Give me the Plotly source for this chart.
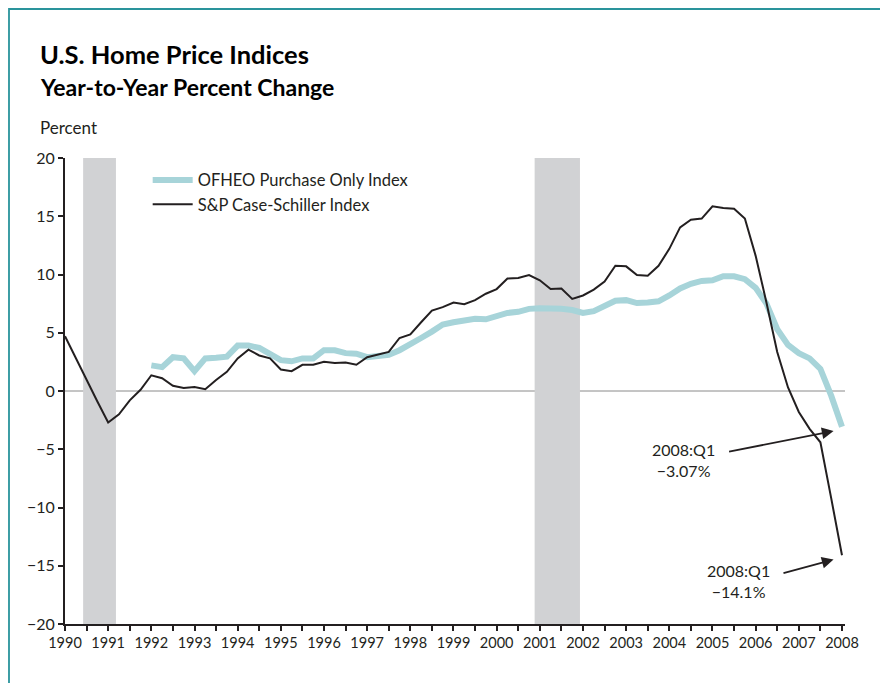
import plotly.graph_objects as go

# Quarterly time axis 1990:Q1 .. 2008:Q1
start_year = 1990
sp_cs_index = [
    4.7, 2.8, 0.9, -0.9,
    -2.7, -2.0, -0.8, 0.1,
    1.35, 1.1, 0.45, 0.25,
    0.35, 0.15, 0.95, 1.65,
    2.8, 3.55, 3.05, 2.8,
    1.85, 1.7, 2.25, 2.25,
    2.5, 2.4, 2.45, 2.25,
    2.9, 3.15, 3.35, 4.55,
    4.85, 5.9, 6.9, 7.2,
    7.6, 7.45, 7.8, 8.35,
    8.75, 9.65, 9.7, 9.95,
    9.5, 8.75, 8.8, 7.9,
    8.2, 8.7, 9.4, 10.75,
    10.7, 9.95, 9.9, 10.75,
    12.2, 14.05, 14.7, 14.8,
    15.85, 15.7, 15.65, 14.8,
    11.6, 7.6, 3.35, 0.3,
    -1.8, -3.25, -4.4, -9.2,
    -14.1,
]
ofheo_start_year = 1992
ofheo_index = [
    2.2, 2.05, 2.9, 2.8,
    1.7, 2.8, 2.85, 2.95,
    3.9, 3.9, 3.7, 3.1,
    2.65, 2.55, 2.8, 2.8,
    3.5, 3.5, 3.25, 3.2,
    2.9, 3.0, 3.1, 3.5,
    4.1, 4.55, 5.1, 5.7,
    5.9, 6.05, 6.2, 6.15,
    6.45, 6.7, 6.8, 7.05,
    7.1, 7.1, 7.05, 6.95,
    6.7, 6.85, 7.3, 7.75,
    7.8, 7.55, 7.6, 7.7,
    8.2, 8.8, 9.2, 9.45,
    9.5, 9.85, 9.85, 9.6,
    8.85, 7.5, 5.3, 3.95,
    3.25, 2.8, 1.9, -0.4,
    -3.07,
]
recessions = [(1990.42, 1991.18), (2000.88, 2001.93)]
year_ticks = list(range(1990, 2009))
y_ticks = [20, 15, 10, 5, 0, -5, -10, -15, -20]

x_sp = [start_year + i * 0.25 for i in range(len(sp_cs_index))]
x_of = [ofheo_start_year + i * 0.25 for i in range(len(ofheo_index))]

FONT = "Lato, 'Open Sans', sans-serif"
INK = "#231f20"

fig = go.Figure()
fig.add_trace(go.Scatter(x=x_of, y=ofheo_index, mode="lines", name="OFHEO Purchase Only Index",
                         line=dict(color="#a7d4d9", width=6)))
fig.add_trace(go.Scatter(x=x_sp, y=sp_cs_index, mode="lines", name="S&P Case-Schiller Index",
                         line=dict(color=INK, width=2)))

shapes = []
for a, b in recessions:
    shapes.append(dict(type="rect", xref="x", yref="y", x0=a, x1=b, y0=-20, y1=20,
                       fillcolor="#d1d2d4", line=dict(width=0), layer="below"))
shapes.append(dict(type="line", xref="paper", yref="y", x0=0, x1=1, y0=0, y1=0,
                   line=dict(color="#8a8a8a", width=1), layer="below"))
# outer teal frame (right and bottom edges run off the page)
shapes.append(dict(type="rect", xref="paper", yref="paper", x0=-0.0718, x1=1.2, y0=-0.2, y1=1.3197,
                   line=dict(color="#2a949c", width=1.8), fillcolor="rgba(0,0,0,0)"))

annotations = [
    dict(text="<b>U.S. Home Price Indices</b>", xref="paper", yref="paper", x=-0.0346, y=1.2232,
         xanchor="left", yanchor="middle", showarrow=False, font=dict(size=25.5, color="black", family=FONT)),
    dict(text="<b>Year-to-Year Percent Change</b>", xref="paper", yref="paper", x=-0.0346, y=1.1534,
         xanchor="left", yanchor="middle", showarrow=False, font=dict(size=23, color="black", family=FONT)),
    dict(text="Percent", xref="paper", yref="paper", x=-0.0346, y=1.066,
         xanchor="left", yanchor="middle", showarrow=False, font=dict(size=17, color=INK, family=FONT)),
    dict(text="2008:Q1<br>\u22123.07%", xref="x", yref="y", x=2005.10, y=-5.9, xanchor="right",
         yanchor="middle", align="center", showarrow=False, font=dict(size=16, color=INK, family=FONT)),
    dict(text="2008:Q1<br>\u221214.1%", xref="x", yref="y", x=2006.39, y=-16.35, xanchor="right",
         yanchor="middle", align="center", showarrow=False, font=dict(size=16, color=INK, family=FONT)),
    dict(text="", x=2007.805, y=-3.43, ax=2005.35, ay=-5.23, xref="x", yref="y", axref="x", ayref="y",
         showarrow=True, arrowhead=2, arrowsize=1.3, arrowwidth=1.8, arrowcolor=INK),
    dict(text="", x=2007.805, y=-14.47, ax=2006.61, ay=-15.67, xref="x", yref="y", axref="x", ayref="y",
         showarrow=True, arrowhead=2, arrowsize=1.3, arrowwidth=1.8, arrowcolor=INK),
]

fig.update_layout(
    width=888, height=683,
    margin=dict(l=57, r=51, t=150, b=67),
    paper_bgcolor="white", plot_bgcolor="white",
    font=dict(family=FONT, size=14, color=INK),
    showlegend=True,
    legend=dict(x=0.106, y=0.99, xanchor="left", yanchor="top", bgcolor="rgba(0,0,0,0)",
                font=dict(size=16.5, color=INK, family=FONT), itemwidth=40, tracegroupgap=0),
    shapes=shapes,
    annotations=annotations,
    xaxis=dict(range=[1990, 2008.07], tickvals=year_ticks, ticktext=[str(y) for y in year_ticks],
               showgrid=False, zeroline=False, showline=True, linecolor=INK, linewidth=2,
               ticks="outside", ticklen=5, tickwidth=2, tickcolor=INK, tickangle=0,
               minor=dict(ticks="outside", dtick=0.5, tick0=1990, ticklen=5, tickwidth=2, tickcolor=INK),
               tickfont=dict(size=14.5, color=INK, family=FONT)),
    yaxis=dict(range=[-20, 20], tickvals=y_ticks, showgrid=False, zeroline=False, showline=True,
               linecolor=INK, linewidth=2, ticks="outside", ticklen=5, tickwidth=2, tickcolor=INK,
               tickfont=dict(size=16, color=INK, family=FONT)),
)

fig.write_html("out.html")
